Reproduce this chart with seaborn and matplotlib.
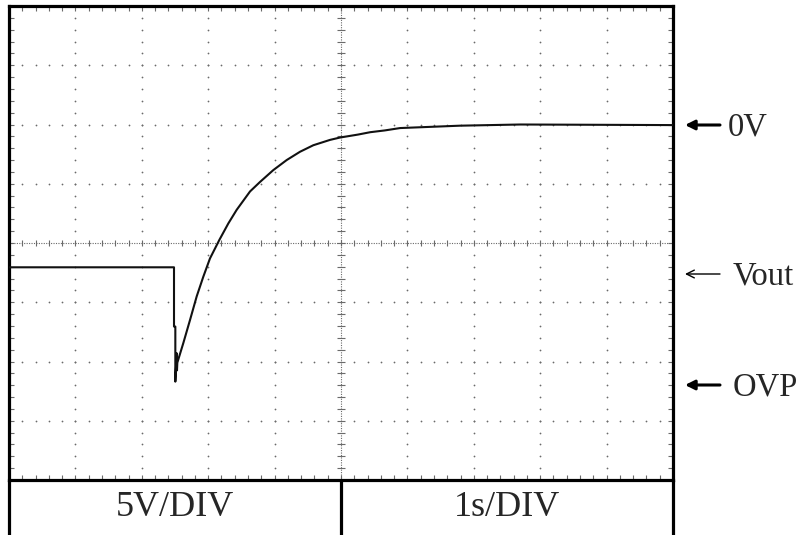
import matplotlib
matplotlib.use("Agg")
import matplotlib.pyplot as plt
from matplotlib.lines import Line2D
from matplotlib.patches import FancyArrowPatch
import numpy as np
import pandas as pd
import seaborn as sns

# Scope trace, in screen divisions (x: 10 time divisions, y: 8 voltage divisions)
time_div = [0.0, 2.485, 2.485, 2.505, 2.505, 2.525, 2.53, 2.535, 2.625, 2.726,
            2.827, 2.926, 3.027, 3.167, 3.303, 3.429, 3.630, 3.780, 3.980,
            4.182, 4.383, 4.583, 4.834, 4.985, 5.256, 5.44, 5.66, 5.89, 6.34,
            6.79, 7.70, 10.0]
volt_div = [3.59, 3.59, 2.59, 2.59, 1.66, 2.14, 1.85, 1.98, 2.31, 2.70,
            3.10, 3.43, 3.74, 4.05, 4.33, 4.56, 4.87, 5.03, 5.23,
            5.40, 5.54, 5.65, 5.74, 5.78, 5.83, 5.87, 5.90, 5.94, 5.96,
            5.98, 6.00, 5.99]

scale_labels = ["5V/DIV", "1s/DIV"]
marker_labels = ["0V", "Vout", "OVP"]
marker_rows_px = [125, 274, 385]

sns.set_style("white")
plt.rcParams["font.family"] = ["Liberation Serif", "DejaVu Serif"]

W, H = 806, 535
fig = plt.figure(figsize=(W / 100, H / 100), dpi=100)
left, right, top, bottom = 9, 673, 6, 480
ax = fig.add_axes([left / W, 1 - bottom / H, (right - left) / W, (bottom - top) / H])
ax.set_xlim(0, 10)
ax.set_ylim(0, 8)
ax.set_xticks([])
ax.set_yticks([])
for s in ax.spines.values():
    s.set_linewidth(2.3)
    s.set_color("black")

dot_c = "#6a6a6a"
minor_x = np.arange(0, 10.001, 0.2)
minor_y = np.arange(0, 8.001, 0.2)

# dotted graticule
for gx in range(1, 10):
    if gx == 5:
        continue
    ax.scatter(np.full(minor_y.size, gx), minor_y, s=1.6, color=dot_c, linewidths=0, zorder=1)
for gy in range(1, 8):
    if gy == 4:
        continue
    ax.scatter(minor_x, np.full(minor_x.size, gy), s=1.6, color=dot_c, linewidths=0, zorder=1)

# centre axes with fine dotted lines and tick marks
ax.axhline(4, color=dot_c, lw=0.8, ls=(0, (1, 1.2)), zorder=1)
ax.axvline(5, color=dot_c, lw=0.8, ls=(0, (1, 1.2)), zorder=1)
ax.vlines(minor_x, 4 - 0.05, 4 + 0.05, color=dot_c, lw=0.8, zorder=1)
ax.hlines(minor_y, 5 - 0.06, 5 + 0.06, color=dot_c, lw=0.8, zorder=1)

# edge ticks
ax.vlines(minor_x, 0, 0.08, color=dot_c, lw=0.8, zorder=1)
ax.vlines(minor_x, 8 - 0.08, 8, color=dot_c, lw=0.8, zorder=1)
ax.hlines(minor_y, 0, 0.07, color=dot_c, lw=0.8, zorder=1)
ax.hlines(minor_y, 10 - 0.07, 10, color=dot_c, lw=0.8, zorder=1)

trace = pd.DataFrame({"t": time_div, "v": volt_div})
sns.lineplot(data=trace, x="t", y="v", ax=ax, color="#111111", lw=1.5,
             estimator=None, sort=False, zorder=3)
ax.set_xlabel("")
ax.set_ylabel("")

# scale table underneath
def fig_line(x0, y0, x1, y1, lw=2.3):
    fig.add_artist(Line2D([x0 / W, x1 / W], [1 - y0 / H, 1 - y1 / H],
                          color="black", lw=lw, solid_capstyle="butt"))

mid = 341
fig_line(left, bottom, left, H + 5)
fig_line(right, bottom, right, H + 5)
fig_line(mid, bottom, mid, H + 5)
fig.text((left + mid) / 2 / W, 1 - 507 / H, scale_labels[0], ha="center", va="center", fontsize=26)
fig.text((mid + right) / 2 / W, 1 - 507 / H, scale_labels[1], ha="center", va="center", fontsize=26)

# level markers on the right
arrow_styles = [dict(arrowstyle="-|>", lw=2.2, mutation_scale=14),
                dict(arrowstyle="->", lw=1.0, mutation_scale=14),
                dict(arrowstyle="-|>", lw=2.2, mutation_scale=14)]
text_x = [728, 733, 733]
for lab, py, st, tx in zip(marker_labels, marker_rows_px, arrow_styles, text_x):
    fig.add_artist(FancyArrowPatch(
        (720 / W, 1 - py / H), (685 / W, 1 - py / H), transform=fig.transFigure,
        color="black", shrinkA=0, shrinkB=0, **st))
    fig.text(tx / W, 1 - (py + 2) / H, lab, ha="left", va="center", fontsize=23.5)

fig.savefig("out.png", dpi=100)
